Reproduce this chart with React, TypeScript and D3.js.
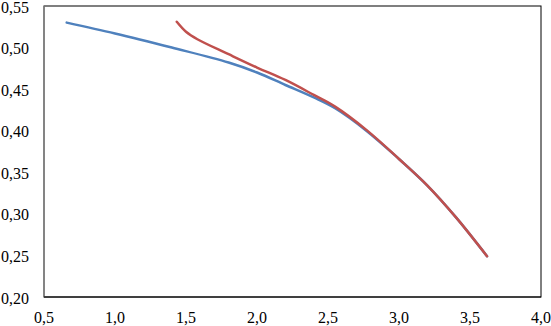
import React from "react";
import * as d3 from "d3";

const blueX = [0.66, 1.0, 1.4, 1.8, 2.0, 2.2, 2.4, 2.55, 2.77, 3.0, 3.2, 3.4, 3.62];
const blueY = [0.530, 0.517, 0.500, 0.482, 0.470, 0.455, 0.440, 0.427, 0.400, 0.366, 0.334, 0.296, 0.249];
const redX = [1.435, 1.5, 1.58, 1.8, 2.0, 2.2, 2.4, 2.55, 2.77, 3.0, 3.2, 3.4, 3.62];
const redY = [0.531, 0.519, 0.510, 0.492, 0.476, 0.461, 0.443, 0.429, 0.401, 0.366, 0.334, 0.296, 0.249];
const xTicks = [0.5, 1.0, 1.5, 2.0, 2.5, 3.0, 3.5, 4.0];
const yTicks = [0.2, 0.25, 0.3, 0.35, 0.4, 0.45, 0.5, 0.55];

const W = 551, H = 326;
const L = 44, R = 541, T = 6, B = 297;

export default function App() {
  const x = d3.scaleLinear().domain([0.5, 4.0]).range([L, R]);
  const y = d3.scaleLinear().domain([0.2, 0.55]).range([B, T]);
  const line = d3
    .line<[number, number]>()
    .x((d) => x(d[0]))
    .y((d) => y(d[1]))
    .curve(d3.curveCatmullRom.alpha(0.5));
  const blue = blueX.map((v, i) => [v, blueY[i]] as [number, number]);
  const red = redX.map((v, i) => [v, redY[i]] as [number, number]);
  const fmtX = (v: number) => v.toFixed(1).replace(".", ",");
  const fmtY = (v: number) => v.toFixed(2).replace(".", ",");
  const font = "Liberation Serif";
  return (
    <svg
      width={W}
      height={H}
      style={{ position: "absolute", left: 0, top: 0, background: "#fff" }}
      fontFamily={font}
      fontSize={16}
    >
      <rect x={L} y={T} width={R - L} height={B - T} fill="#fff" stroke="#000" strokeWidth={1} />
      <line x1={L} x2={L} y1={T} y2={B} stroke="#868686" strokeWidth={1.5} />
      <line x1={L} x2={R} y1={B} y2={B} stroke="#000" strokeWidth={1} />
      <path d={line(blue) || ""} fill="none" stroke="#4F81BD" strokeWidth={2.5} strokeLinecap="round" />
      <path d={line(red) || ""} fill="none" stroke="#C0504D" strokeWidth={2.5} strokeLinecap="round" />
      {yTicks.map((t) => (
        <text key={"y" + t} x={29} y={y(t) + 1} dy="0.35em" textAnchor="end" fill="#000">
          {fmtY(t)}
        </text>
      ))}
      {xTicks.map((t) => (
        <text key={"x" + t} x={x(t)} y={323} textAnchor="middle" fill="#000">
          {fmtX(t)}
        </text>
      ))}
    </svg>
  );
}
